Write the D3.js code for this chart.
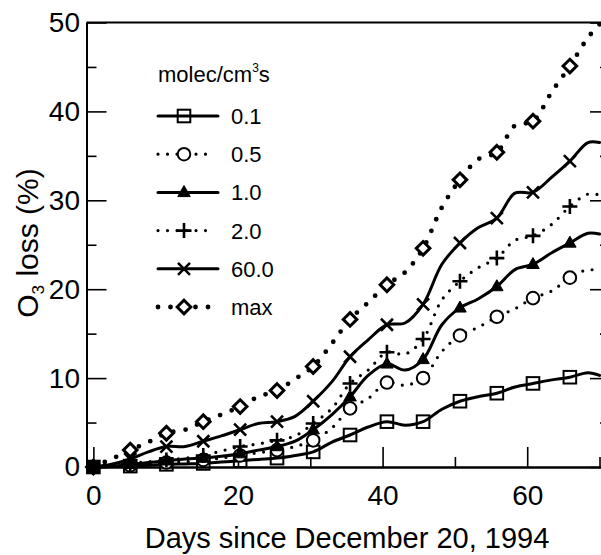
<!DOCTYPE html>
<html><head><meta charset="utf-8">
<script src="https://cdn.jsdelivr.net/npm/d3@7"></script>
<style>
html,body{margin:0;padding:0;background:#fff;}
svg{display:block;font-family:"Liberation Sans",Arial,Helvetica,sans-serif;}
</style>
</head><body>
<svg id="chart" width="601" height="555"></svg>
<script>
// ---- data ----
const days = [0,2.5,5.1,7.6,10.1,12.7,15.2,17.7,20.3,22.8,25.4,27.9,30.4,33,35.5,38,40.6,43.1,45.6,48.2,50.7,53.2,55.8,58.3,60.8,63.4,65.9,68.4,70];
const loss01  = [0,0.05,0.1,0.2,0.3,0.35,0.4,0.55,0.7,0.85,1.0,1.3,1.7,2.8,3.6,4.5,5.1,4.7,5.1,6.5,7.4,7.9,8.3,9.0,9.4,9.8,10.1,10.6,10.3];
const loss05  = [0,0.1,0.2,0.4,0.5,0.6,0.8,1.0,1.3,1.6,1.9,2.3,3.0,4.4,6.6,7.7,9.5,9.2,10.0,13.0,14.8,15.7,16.9,17.8,19.0,19.8,21.3,22.2,22.0];
const loss10  = [0,0.1,0.3,0.5,0.7,0.9,1.0,1.2,1.5,1.9,2.3,2.9,4.2,5.9,7.9,10.3,11.6,10.9,12.1,16.0,17.9,18.9,20.3,22.2,22.8,24.1,25.2,26.3,26.2];
const loss20  = [0,0.2,0.4,0.6,0.8,1.0,1.3,1.8,2.3,2.6,3.0,3.5,4.9,6.6,9.4,10.9,12.9,12.7,14.4,18.8,20.9,22.4,23.5,25.5,26.0,27.3,29.3,30.7,30.6];
const loss60  = [0,0.3,0.9,1.7,2.3,2.3,2.9,3.5,4.2,4.9,5.1,5.7,7.4,9.6,12.4,14.3,16.0,16.2,18.3,22.8,25.2,26.9,28.0,30.8,30.9,32.6,34.4,36.5,36.5];
const lossMax = [0,0.9,1.9,2.8,3.8,4.2,5.1,5.9,6.8,7.9,8.6,9.9,11.3,13.9,16.6,18.5,20.5,21.9,24.6,29.2,32.3,34.6,35.4,38.4,38.9,42.2,45.1,48.3,49.8];
const seriesLabels = ["0.1","0.5","1.0","2.0","60.0","max"];
const seriesMarkers = ["square","circle","triangle","plus","times","diamond"];
const seriesDashed = [false,true,false,true,false,true];
const xMajorTicks = [0,20,40,60];
const xMinorTicks = [10,30,50,70];
const yMajorTicks = [0,10,20,30,40,50];
const yMinorTicks = [5,15,25,35,45];
const legendTitle = "molec/cm";
const xTitle = "Days since December 20, 1994";

const seriesValues = [loss01, loss05, loss10, loss20, loss60, lossMax];

// ---- layout ----
const svg = d3.select("#chart");
const x = d3.scaleLinear().domain([-0.95, 71.45]).range([86.5, 610]);
const y = d3.scaleLinear().domain([0, 50]).range([467, 22.5]);

const axW = 2;
function styleAxis(g){
  g.selectAll(".domain").attr("stroke","#000").attr("stroke-width",axW);
  g.selectAll(".tick line").attr("stroke","#000").attr("stroke-width",1.6);
  g.selectAll(".tick text").attr("fill","#000").attr("font-size",28);
}
svg.append("line").attr("x1",x.range()[0]).attr("x2",x.range()[1])
  .attr("y1",y(50)).attr("y2",y(50)).attr("stroke","#000").attr("stroke-width",axW);

const gl = svg.append("g").attr("transform",`translate(${x.range()[0]},0)`)
  .call(d3.axisLeft(y).tickValues(yMajorTicks).tickSize(-20).tickSizeOuter(0).tickPadding(6.5).tickFormat(d3.format("d")));
styleAxis(gl);
const glm = svg.append("g").attr("transform",`translate(${x.range()[0]},0)`)
  .call(d3.axisLeft(y).tickValues(yMinorTicks).tickSize(-10).tickSizeOuter(0).tickFormat(""));
styleAxis(glm);

const gr = svg.append("g").attr("transform",`translate(${x.range()[1]},0)`)
  .call(d3.axisRight(y).tickValues(yMajorTicks).tickSize(-20).tickSizeOuter(0).tickFormat(""));
styleAxis(gr);
const grm = svg.append("g").attr("transform",`translate(${x.range()[1]},0)`)
  .call(d3.axisRight(y).tickValues(yMinorTicks).tickSize(-10).tickSizeOuter(0).tickFormat(""));
styleAxis(grm);

const gb = svg.append("g").attr("transform",`translate(0,${y(0)})`)
  .call(d3.axisBottom(x).tickValues(xMajorTicks).tickSize(-20).tickSizeOuter(0).tickPadding(18).tickFormat(d3.format("d")));
styleAxis(gb);
const gbm = svg.append("g").attr("transform",`translate(0,${y(0)})`)
  .call(d3.axisBottom(x).tickValues(xMinorTicks).tickSize(-10).tickSizeOuter(0).tickFormat(""));
styleAxis(gbm);
svg.selectAll("g").attr("font-family",null);

svg.append("text").attr("x",347).attr("y",548).attr("text-anchor","middle")
  .attr("font-size",29).attr("fill","#000").text(xTitle);
const yt = svg.append("text").attr("transform","translate(38,243) rotate(-90)")
  .attr("text-anchor","middle").attr("font-size",30).attr("fill","#000");
yt.append("tspan").text("O");
yt.append("tspan").attr("font-size",17).attr("dy",6).text("3");
yt.append("tspan").attr("dy",-6).text(" loss (%)");

// ---- marker drawing ----
function drawMarker(g, type, cx, cy, solid){
  const s = 6.3;
  const openFill = solid ? "#000" : "none";
  const whiteFill = solid ? "#000" : "#fff";
  if(type==="square"){
    g.append("rect").attr("x",cx-s).attr("y",cy-s).attr("width",2*s).attr("height",2*s)
      .attr("fill",openFill).attr("stroke","#000").attr("stroke-width",2);
  } else if(type==="circle"){
    g.append("circle").attr("cx",cx).attr("cy",cy).attr("r",6.3)
      .attr("fill",whiteFill).attr("stroke","#000").attr("stroke-width",2);
  } else if(type==="triangle"){
    const h = 11, w = 12.5;
    g.append("path").attr("d",`M${cx},${cy-h*0.62}L${cx+w/2},${cy+h*0.38}L${cx-w/2},${cy+h*0.38}Z`)
      .attr("fill","#000").attr("stroke","#000").attr("stroke-width",1);
  } else if(type==="plus"){
    const a = 7.5;
    g.append("path").attr("d",`M${cx-a},${cy}H${cx+a}M${cx},${cy-a}V${cy+a}`)
      .attr("fill","none").attr("stroke","#000").attr("stroke-width",2.6);
  } else if(type==="times"){
    const a = 6;
    g.append("path").attr("d",`M${cx-a},${cy-a}L${cx+a},${cy+a}M${cx-a},${cy+a}L${cx+a},${cy-a}`)
      .attr("fill","none").attr("stroke","#000").attr("stroke-width",2.6);
  } else if(type==="diamond"){
    const a = 6.8;
    g.append("path").attr("d",`M${cx},${cy-a}L${cx+a},${cy}L${cx},${cy+a}L${cx-a},${cy}Z`)
      .attr("fill",whiteFill).attr("stroke","#000").attr("stroke-width",3);
  }
}
function lineStyle(sel, i){
  if(seriesMarkers[i]==="diamond"){
    sel.attr("stroke-width",4.8).attr("stroke-dasharray","0,12.5").attr("stroke-linecap","round");
  } else if(seriesDashed[i]){
    sel.attr("stroke-width",3.2).attr("stroke-dasharray","0,9.5").attr("stroke-linecap","round");
  } else {
    sel.attr("stroke-width",3).attr("stroke-linecap","round");
  }
  sel.attr("fill","none").attr("stroke","#000").attr("stroke-linejoin","round");
}

// ---- series ----
const line = d3.line().x(d=>x(d[0])).y(d=>y(d[1])).curve(d3.curveCatmullRom.alpha(0.5));
seriesValues.forEach((vals,i)=>{
  const pts = days.map((d,k)=>[d, vals[k]]);
  const g = svg.append("g");
  g.append("path").datum(pts).attr("d",line).call(lineStyle, i);
  pts.forEach((p,k)=>{
    if(k%2===0 && p[0]<=66) drawMarker(g, seriesMarkers[i], x(p[0]), y(p[1]), p[0]===0);
  });
});

// ---- legend ----
const lg = svg.append("g");
const tt = lg.append("text").attr("x",158).attr("y",82).attr("font-size",22).attr("fill","#000");
tt.append("tspan").text(legendTitle);
tt.append("tspan").attr("font-size",12).attr("dy",-10).text("3");
tt.append("tspan").attr("dy",10).text("s");
const rowY0 = 116, rowStep = 38.2;
seriesLabels.forEach((lab,i)=>{
  const yy = rowY0 + i*rowStep;
  const gi = lg.append("g");
  const x1 = 158, x2 = seriesDashed[i] ? 212 : 218;
  gi.append("path").attr("d",`M${x1},${yy}H${x2}`).call(lineStyle, i);
  drawMarker(gi, seriesMarkers[i], 184, yy, false);
  gi.append("text").attr("x",231).attr("y",yy+8).attr("font-size",22).attr("fill","#000").text(lab);
});
</script>
</body></html>
